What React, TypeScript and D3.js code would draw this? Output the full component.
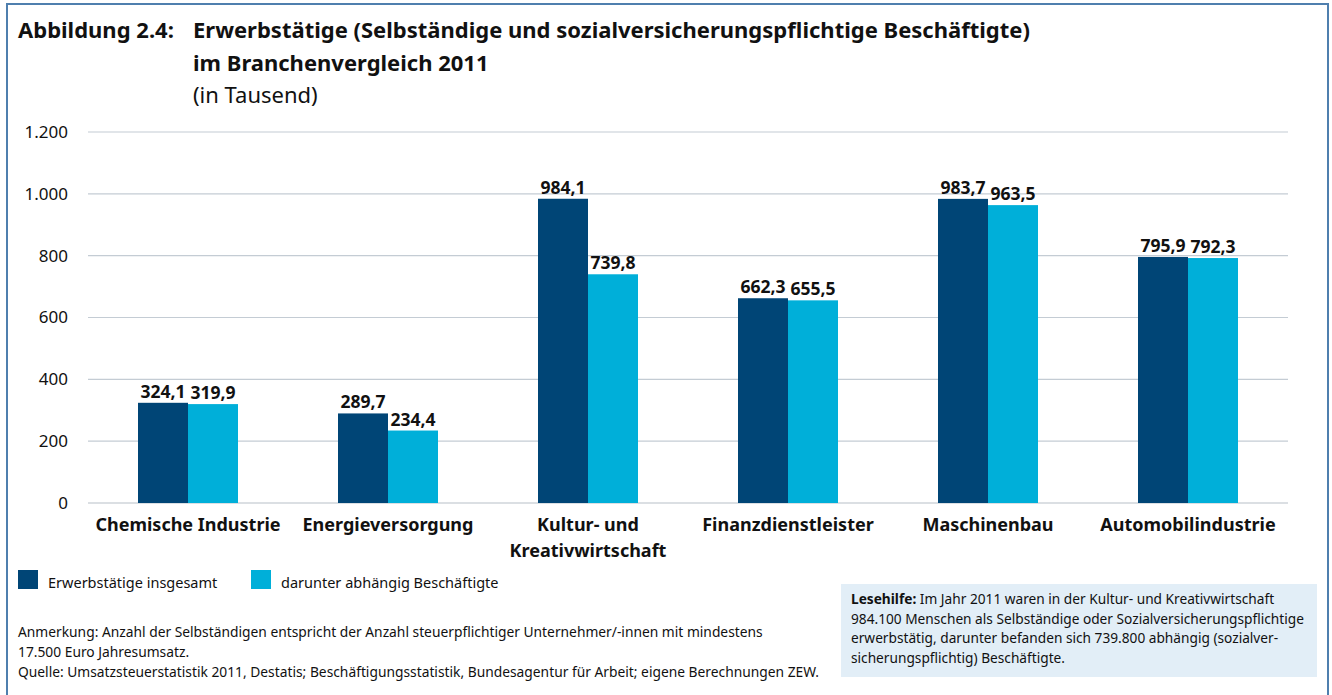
import React, { useRef, useEffect } from "react";
import * as d3 from "d3";

const width = 1332;
const height = 695;

// Branchen und Werte (in Tausend)
const categories = [
  ["Chemische Industrie"],
  ["Energieversorgung"],
  ["Kultur- und", "Kreativwirtschaft"],
  ["Finanzdienstleister"],
  ["Maschinenbau"],
  ["Automobilindustrie"],
];
const seriesNames = ["Erwerbstätige insgesamt", "darunter abhängig Beschäftigte"];
const totalValues = [324.1, 289.7, 984.1, 662.3, 983.7, 795.9];
const dependentValues = [319.9, 234.4, 739.8, 655.5, 963.5, 792.3];
const yTicks = [0, 200, 400, 600, 800, 1000, 1200];

const colors = ["#004576", "#00afd9"];
const font = "'Noto Sans', sans-serif";

const locale = d3.formatLocale({ decimal: ",", thousands: ".", grouping: [3], currency: ["", "€"] });
const fmtValue = locale.format(",.1f");
const fmtTick = locale.format(",d");

const margin = { left: 88, right: 44, top: 132, bottom: 192 };

export default function App() {
  const svgRef = useRef<SVGSVGElement>(null);

  useEffect(() => {
    if (!svgRef.current) return;
    const svg = d3.select(svgRef.current);
    svg.selectAll("*").remove();

    const x0 = d3.scaleBand<number>()
      .domain(d3.range(categories.length))
      .range([margin.left, width - margin.right])
      .paddingInner(0.5)
      .paddingOuter(0.25);
    const x1 = d3.scaleBand<number>()
      .domain([0, 1])
      .range([0, x0.bandwidth()]);
    const y = d3.scaleLinear()
      .domain([0, 1200])
      .range([height - margin.bottom, margin.top]);

    // Rahmen
    svg.append("rect")
      .attr("x", 7).attr("y", 4)
      .attr("width", 1321).attr("height", 720)
      .attr("fill", "white")
      .attr("stroke", "#4f7fae")
      .attr("stroke-width", 2);

    // Titel
    const title = svg.append("g").attr("font-family", font).attr("fill", "#111");
    title.append("text").attr("x", 18).attr("y", 38)
      .attr("font-size", 22).attr("font-weight", "bold")
      .text("Abbildung 2.4:");
    title.append("text").attr("x", 193).attr("y", 38)
      .attr("font-size", 22).attr("font-weight", "bold")
      .text("Erwerbstätige (Selbständige und sozialversicherungspflichtige Beschäftigte)");
    title.append("text").attr("x", 193).attr("y", 71)
      .attr("font-size", 22).attr("font-weight", "bold")
      .text("im Branchenvergleich 2011");
    title.append("text").attr("x", 193).attr("y", 103)
      .attr("font-size", 22)
      .text("(in Tausend)");

    // Gitterlinien und y-Achse
    const grid = svg.append("g");
    grid.selectAll("line")
      .data(yTicks)
      .join("line")
      .attr("x1", margin.left)
      .attr("x2", width - margin.right)
      .attr("y1", d => y(d))
      .attr("y2", d => y(d))
      .attr("stroke", d => d === 0 ? "#b8c0c8" : "#c4ccd4")
      .attr("stroke-width", 1.2);
    grid.selectAll("text")
      .data(yTicks)
      .join("text")
      .attr("x", 68)
      .attr("y", d => y(d))
      .attr("dy", "0.35em")
      .attr("text-anchor", "end")
      .attr("font-family", font)
      .attr("font-size", 17)
      .attr("fill", "#111")
      .text(d => fmtTick(d));

    // Balken
    const rows = categories.map((c, i) => [totalValues[i], dependentValues[i]]);
    const groups = svg.append("g")
      .selectAll("g")
      .data(rows)
      .join("g")
      .attr("transform", (d, i) => `translate(${x0(i)},0)`);

    groups.selectAll("rect")
      .data(d => d)
      .join("rect")
      .attr("x", (d, j) => x1(j)!)
      .attr("width", x1.bandwidth())
      .attr("y", d => y(d))
      .attr("height", d => y(0) - y(d))
      .attr("fill", (d, j) => colors[j]);

    groups.selectAll("text")
      .data(d => d)
      .join("text")
      .attr("x", (d, j) => x1(j)! + x1.bandwidth() / 2)
      .attr("y", d => y(d) - 5)
      .attr("text-anchor", "middle")
      .attr("font-family", font)
      .attr("font-size", 17.5)
      .attr("font-weight", "bold")
      .attr("fill", "#111")
      .text(d => fmtValue(d));

    // Kategorien
    const labels = svg.append("g")
      .selectAll("text")
      .data(categories)
      .join("text")
      .attr("x", (d, i) => x0(i)! + x0.bandwidth() / 2)
      .attr("y", 531)
      .attr("text-anchor", "middle")
      .attr("font-family", font)
      .attr("font-size", 18)
      .attr("font-weight", "bold")
      .attr("fill", "#111");
    labels.selectAll("tspan")
      .data(d => d)
      .join("tspan")
      .attr("x", function () {
        return (this.parentNode as SVGTextElement).getAttribute("x");
      })
      .attr("dy", (d, j) => j === 0 ? 0 : 26)
      .text(d => d);

    // Legende
    const legendX = [18, 251];
    const legend = svg.append("g")
      .selectAll("g")
      .data(seriesNames)
      .join("g")
      .attr("transform", (d, i) => `translate(${legendX[i]},570)`);
    legend.append("rect")
      .attr("width", 20).attr("height", 19)
      .attr("fill", (d, i) => colors[i]);
    legend.append("text")
      .attr("x", 30).attr("y", 18)
      .attr("font-family", font)
      .attr("font-size", 14.5)
      .attr("fill", "#111")
      .text(d => d);

    // Anmerkung und Quelle
    const notes = [
      "Anmerkung: Anzahl der Selbständigen entspricht der Anzahl steuerpflichtiger Unternehmer/-innen mit mindestens",
      "17.500 Euro Jahresumsatz.",
      "Quelle: Umsatzsteuerstatistik 2011, Destatis; Beschäftigungsstatistik, Bundesagentur für Arbeit; eigene Berechnungen ZEW.",
    ];
    svg.append("g")
      .selectAll("text")
      .data(notes)
      .join("text")
      .attr("x", 18)
      .attr("y", (d, i) => 637 + i * 20)
      .attr("font-family", font)
      .attr("font-size", 13.8)
      .attr("fill", "#111")
      .text(d => d);

    // Lesehilfe
    svg.append("rect")
      .attr("x", 841).attr("y", 584)
      .attr("width", 476).attr("height", 93)
      .attr("fill", "#e2eef7");
    const help = svg.append("text")
      .attr("font-family", font)
      .attr("font-size", 13.7)
      .attr("fill", "#111");
    const helpLines = [
      "Im Jahr 2011 waren in der Kultur- und Kreativwirtschaft",
      "984.100 Menschen als Selbständige oder Sozialversicherungspflichtige",
      "erwerbstätig, darunter befanden sich 739.800 abhängig (sozialver-",
      "sicherungspflichtig) Beschäftigte.",
    ];
    helpLines.forEach((line, i) => {
      const t = help.append("tspan").attr("x", 851).attr("y", 604 + i * 19.7);
      if (i === 0) {
        t.append("tspan").attr("font-weight", "bold").text("Lesehilfe: ");
      }
      t.append("tspan").text(line);
    });
  }, []);

  return (
    <svg
      ref={svgRef}
      width={width}
      height={height}
      style={{ position: "absolute", left: 0, top: 0, display: "block" }}
    />
  );
}
